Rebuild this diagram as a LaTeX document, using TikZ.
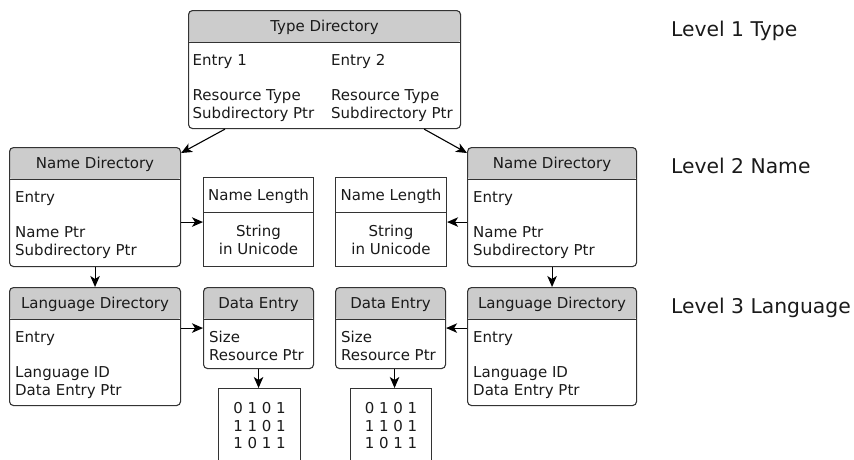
\documentclass[tikz,border=0pt]{standalone}
\usepackage{fontspec}
\setmainfont{DejaVu Sans}
\usepackage{tikz}
\usetikzlibrary{positioning,arrows.meta,calc}

\definecolor{hdrgray}{HTML}{CCCCCC}
\definecolor{boxline}{HTML}{333333}
\definecolor{txt}{HTML}{1A1A1A}

\tikzset{
  dirbox/.style={draw=boxline, line width=1.1pt, rounded corners=4pt, inner sep=0pt, anchor=north west,
    path picture={
      \fill[hdrgray] (path picture bounding box.north west) rectangle ([yshift=-32pt]path picture bounding box.north east);
      \draw[boxline, line width=1.1pt] ([yshift=-32pt]path picture bounding box.north west) -- ([yshift=-32pt]path picture bounding box.north east);
    }},
  lenbox/.style={draw=boxline, line width=1.1pt, inner sep=0pt, anchor=north west,
    path picture={
      \draw[boxline, line width=1.1pt] ([yshift=-35pt]path picture bounding box.north west) -- ([yshift=-35pt]path picture bounding box.north east);
    }},
  bitsbox/.style={draw=boxline, line width=1.1pt, inner sep=0pt, anchor=north west},
  hdrtext/.style={anchor=base, inner sep=0pt, text=txt, font=\fontsize{15}{17.5}\selectfont},
  bodytext/.style={anchor=north west, inner sep=0pt, align=left, text=txt, font=\fontsize{15}{17.5}\selectfont},
  midtext/.style={anchor=north, inner sep=0pt, align=center, text=txt, font=\fontsize{15}{17.5}\selectfont},
  lvltext/.style={anchor=base west, inner sep=0pt, text=txt, font=\fontsize{20.3}{24}\selectfont},
  arr/.style={-{Stealth[length=11pt,width=9.5pt,inset=3pt]}, line width=1.1pt, black}
}

\begin{document}
\begin{tikzpicture}[x=1pt,y=-1pt]
\useasboundingbox (0,0) rectangle (854,459);

\node[dirbox, minimum width=272pt, minimum height=118pt] (typedir) at (188,10) {};
\node[hdrtext] (typehdr) at ([yshift=-21.3pt]typedir.north) {Type Directory};
\node[bodytext] (typeent1) at ([shift={(4.5pt,-44.4pt)}]typedir.north west) {Entry 1\\ \\Resource Type\\Subdirectory Ptr};
\node[bodytext] (typeent2) at ([shift={(143pt,-44.4pt)}]typedir.north west) {Entry 2\\ \\Resource Type\\Subdirectory Ptr};

\node[dirbox, minimum width=171pt, minimum height=119pt] (nameL) at (9,147) {};
\node[hdrtext] (nameLhdr) at ([yshift=-21.3pt]nameL.north) {Name Directory};
\node[bodytext] (nameLbody) at ([shift={(6pt,-44.4pt)}]nameL.north west) {Entry\\ \\Name Ptr\\Subdirectory Ptr};

\node[dirbox, minimum width=169pt, minimum height=119pt] (nameR) at (467,147) {};
\node[hdrtext] (nameRhdr) at ([yshift=-21.3pt]nameR.north) {Name Directory};
\node[bodytext] (nameRbody) at ([shift={(6pt,-44.4pt)}]nameR.north west) {Entry\\ \\Name Ptr\\Subdirectory Ptr};

\node[lenbox, minimum width=110pt, minimum height=89pt] (lenL) at (203,177) {};
\node[hdrtext] (lenLhdr) at ([yshift=-23.5pt]lenL.north) {Name Length};
\node[midtext] (lenLbody) at ([yshift=-48pt]lenL.north) {String\\in Unicode};

\node[lenbox, minimum width=111pt, minimum height=89pt] (lenR) at (335,177) {};
\node[hdrtext] (lenRhdr) at ([yshift=-23.5pt]lenR.north) {Name Length};
\node[midtext] (lenRbody) at ([yshift=-48pt]lenR.north) {String\\in Unicode};

\node[dirbox, minimum width=171pt, minimum height=118pt] (langL) at (9,287) {};
\node[hdrtext] (langLhdr) at ([yshift=-21.3pt]langL.north) {Language Directory};
\node[bodytext] (langLbody) at ([shift={(6pt,-44.4pt)}]langL.north west) {Entry\\ \\Language ID\\Data Entry Ptr};

\node[dirbox, minimum width=169pt, minimum height=118pt] (langR) at (467,287) {};
\node[hdrtext] (langRhdr) at ([yshift=-21.3pt]langR.north) {Language Directory};
\node[bodytext] (langRbody) at ([shift={(6pt,-44.4pt)}]langR.north west) {Entry\\ \\Language ID\\Data Entry Ptr};

\node[dirbox, minimum width=110pt, minimum height=81pt] (dataL) at (203,287) {};
\node[hdrtext] (dataLhdr) at ([yshift=-21.3pt]dataL.north) {Data Entry};
\node[bodytext] (dataLbody) at ([shift={(6pt,-44.2pt)}]dataL.north west) {Size\\Resource Ptr};

\node[dirbox, minimum width=110pt, minimum height=81pt] (dataR) at (335,287) {};
\node[hdrtext] (dataRhdr) at ([yshift=-21.3pt]dataR.north) {Data Entry};
\node[bodytext] (dataRbody) at ([shift={(6pt,-44.2pt)}]dataR.north west) {Size\\Resource Ptr};

\node[bitsbox, minimum width=82pt, minimum height=90pt] (bitsL) at (218,388) {};
\node[midtext] (bitsLtext) at ([yshift=-14.6pt]bitsL.north) {0 1 0 1\\1 1 0 1\\1 0 1 1};

\node[bitsbox, minimum width=81pt, minimum height=90pt] (bitsR) at (350,388) {};
\node[midtext] (bitsRtext) at ([yshift=-14.6pt]bitsR.north) {0 1 0 1\\1 1 0 1\\1 0 1 1};

\node[lvltext] (lvl1) at (671,36.5) {Level 1 Type};
\node[lvltext] (lvl2) at (671,173.5) {Level 2 Name};
\node[lvltext] (lvl3) at (671,313.5) {Level 3 Language};

\draw[arr] ([xshift=37pt]typedir.south west) -- ([yshift=-6pt]nameL.north east);
\draw[arr] ([xshift=-37pt]typedir.south east) -- ([yshift=-6pt]nameR.north west);
\draw[arr] (nameL.east |- lenL) -- (lenL.west);
\draw[arr] (nameR.west |- lenR) -- (lenR.east);
\draw[arr] (nameL.south) -- (langL.north);
\draw[arr] (nameR.south) -- (langR.north);
\draw[arr] (langL.east |- dataL) -- (dataL.west);
\draw[arr] (langR.west |- dataR) -- (dataR.east);
\draw[arr] (dataL.south) -- (dataL.south |- bitsL.north);
\draw[arr] ([xshift=4pt]dataR.south) -- ([xshift=4pt]dataR.south |- bitsR.north);
\end{tikzpicture}
\end{document}
